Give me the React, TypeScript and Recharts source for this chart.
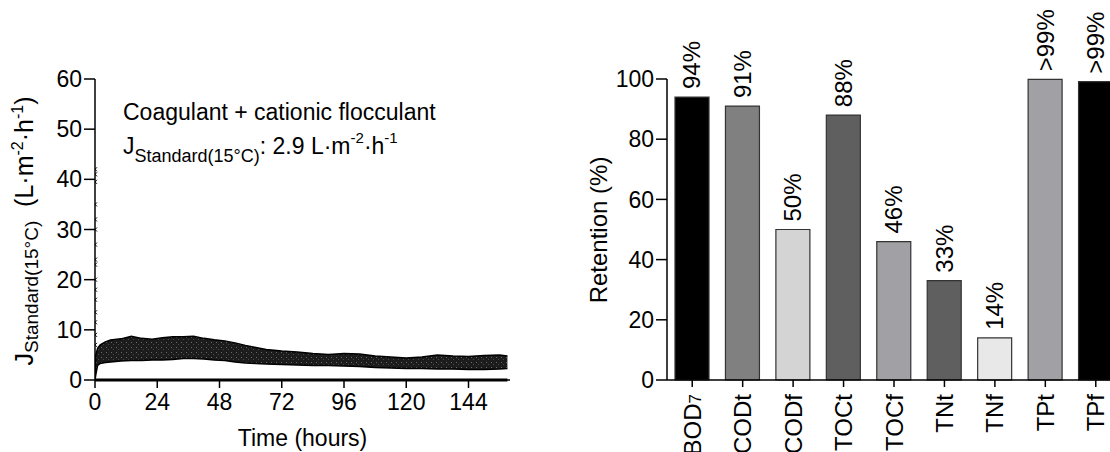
import React from "react";
import {
  ComposedChart,
  Area,
  Line,
  Scatter,
  BarChart,
  Bar,
  Cell,
  LabelList,
  XAxis,
  YAxis,
  Label,
} from "recharts";

// ---- left panel: flux over time ----
const hours = [0, 0.3, 1, 2, 4, 6, 10, 14, 18, 22, 26, 30, 34, 38, 42, 46, 50, 54, 58, 62, 66, 72, 78, 84, 90, 96, 102, 108, 114, 120, 126, 132, 138, 144, 150, 156, 159];
const fluxUpper = [1, 5, 6.3, 7, 7.6, 8, 8.2, 8.7, 8.3, 8.1, 8.4, 8.6, 8.6, 8.7, 8.3, 8, 7.8, 7.4, 6.9, 6.5, 6.1, 5.8, 5.6, 5.3, 5.1, 5.3, 5.2, 4.8, 4.6, 4.4, 4.6, 5, 4.8, 4.7, 4.9, 5, 4.8];
const fluxLower = [0, 1, 2.9, 3.3, 3.5, 3.6, 3.8, 3.9, 3.9, 4, 4, 4.1, 4.3, 4.3, 4.2, 4, 3.9, 3.6, 3.4, 3.3, 3.2, 3.1, 3, 2.9, 2.9, 2.8, 2.7, 2.5, 2.4, 2.3, 2.3, 2.2, 2.2, 2.1, 2.1, 2.2, 2.3];
const spikeValues = [42, 41, 39.5, 35, 32, 30, 27, 24, 23, 20, 18, 16, 13.5, 11.5, 9, 7];
const zeroHours = [0, 159];
const timeTicks = [0, 24, 48, 72, 96, 120, 144];
const fluxTicks = [0, 10, 20, 30, 40, 50, 60];

// ---- right panel: retention ----
const params = ["BOD7", "CODt", "CODf", "TOCt", "TOCf", "TNt", "TNf", "TPt", "TPf"];
const retention = [94, 91, 50, 88, 46, 33, 14, 99.9, 99.1];
const retentionText = ["94%", "91%", "50%", "88%", "46%", "33%", "14%", ">99%", ">99%"];
const barColors = ["#000000", "#808080", "#d4d4d4", "#5f5f5f", "#a1a1a5", "#5f5f5f", "#e8e8e8", "#a1a1a5", "#000000"];
const retentionTicks = [0, 20, 40, 60, 80, 100];

const bandData = hours.map((t, i) => ({ t, range: [fluxLower[i], fluxUpper[i]] }));
const spikeData = spikeValues.map((v) => ({ t: 0, v }));
const zeroData = zeroHours.map((t) => ({ t, v: 0 }));
const barData = params.map((p, i) => ({ name: p, value: retention[i], text: retentionText[i] }));

const FONT = "'Liberation Sans', Arial, sans-serif";
const axisTick = { fill: "#000", fontSize: 23, fontFamily: FONT };

const XMark = (props: any) => {
  const { cx, cy } = props;
  return (
    <path
      d={`M${cx - 2},${cy - 2}L${cx + 2},${cy + 2}M${cx - 2},${cy + 2}L${cx + 2},${cy - 2}`}
      stroke="#000"
      strokeWidth={1}
    />
  );
};

// rotated J_Standard(15°C) (L·m-2·h-1), baseline on the right
const FluxLabel = () => (
  <text
    transform="rotate(-90, 33, 231)"
    x={33}
    y={231}
    textAnchor="middle"
    fontFamily={FONT}
    fontSize={25}
    fill="#000"
  >
    <tspan>J</tspan>
    <tspan dy={5} fontSize={19}>Standard(15°C)</tspan>
    <tspan dy={-5}>{"\u00a0\u00a0(L·m"}</tspan>
    <tspan dy={-10} fontSize={16}>-2</tspan>
    <tspan dy={10}>·h</tspan>
    <tspan dy={-10} fontSize={16}>-1</tspan>
    <tspan dy={10}>)</tspan>
  </text>
);

const TimeLabel = (props: any) => {
  const { viewBox } = props;
  return (
    <text
      x={viewBox.x + viewBox.width / 2}
      y={446}
      textAnchor="middle"
      fontFamily={FONT}
      fontSize={23}
      fill="#000"
    >
      Time (hours)
    </text>
  );
};

const ParamTick = (props: any) => {
  const { x, y, payload } = props;
  const name: string = payload.value;
  const sub = name === "BOD7";
  return (
    <text
      transform={`rotate(-90, ${x}, ${y})`}
      x={x}
      y={y}
      textAnchor="end"
      dominantBaseline="central"
      fontFamily={FONT}
      fontSize={24}
      fill="#000"
    >
      {sub ? (
        <>
          <tspan>BOD</tspan>
          <tspan fontSize={17} dy={3}>7</tspan>
        </>
      ) : (
        name
      )}
    </text>
  );
};

const BarText = (props: any) => {
  const { x, y, width, value } = props;
  const cx = x + width / 2;
  const ty = y - 8;
  return (
    <text
      transform={`rotate(-90, ${cx}, ${ty})`}
      x={cx}
      y={ty}
      textAnchor="start"
      dominantBaseline="central"
      fontFamily={FONT}
      fontSize={24}
      fill="#000"
    >
      {value}
    </text>
  );
};

export default function App() {
  return (
    <div
      style={{
        position: "absolute",
        left: 0,
        top: 0,
        width: 1110,
        height: 452,
        overflow: "hidden",
        background: "#fff",
        fontFamily: FONT,
      }}
    >
      {/* left: flux */}
      <div style={{ position: "absolute", left: 0, top: 0 }}>
        <ComposedChart
          width={540}
          height={452}
          margin={{ top: 79, right: 30, left: 35, bottom: 32 }}
        >
          <defs>
            <pattern id="fluxTexture" width="5" height="5" patternUnits="userSpaceOnUse">
              <rect width="5" height="5" fill="#1c1c1c" />
              <rect x="1" y="2" width="1" height="1" fill="#6a6a6a" />
              <rect x="3" y="4" width="1" height="1" fill="#4a4a4a" />
            </pattern>
          </defs>
          <XAxis
            type="number"
            dataKey="t"
            domain={[0, 160]}
            ticks={timeTicks}
            allowDataOverflow
            tick={axisTick}
            tickSize={8}
            tickMargin={6}
            axisLine={{ stroke: "#000", strokeWidth: 1.5 }}
            tickLine={{ stroke: "#000", strokeWidth: 1.5 }}
            height={40}
          >
            <Label content={<TimeLabel />} />
          </XAxis>
          <YAxis
            type="number"
            domain={[0, 60]}
            ticks={fluxTicks}
            tick={axisTick}
            tickSize={11}
            tickMargin={2}
            width={60}
            axisLine={{ stroke: "#000", strokeWidth: 1.5 }}
            tickLine={{ stroke: "#000", strokeWidth: 1.5 }}
            label={<FluxLabel />}
          />
          <Area
            data={bandData}
            dataKey="range"
            type="linear"
            stroke="#000"
            strokeWidth={1.5}
            fill="url(#fluxTexture)"
            fillOpacity={1}
            isAnimationActive={false}
          />
          <Line
            data={zeroData}
            dataKey="v"
            stroke="#000"
            strokeWidth={3}
            dot={false}
            isAnimationActive={false}
          />
          <Scatter
            data={spikeData}
            dataKey="v"
            shape={<XMark />}
            isAnimationActive={false}
          />
        </ComposedChart>
      </div>

      {/* annotation */}
      <svg
        style={{ position: "absolute", left: 0, top: 0 }}
        width={540}
        height={200}
      >
        <text x={123} y={120} fontFamily={FONT} fontSize={23} fill="#000">
          Coagulant + cationic flocculant
        </text>
        <text x={123} y={154} fontFamily={FONT} fontSize={23} fill="#000">
          <tspan>J</tspan>
          <tspan dy={8} fontSize={18}>Standard(15°C)</tspan>
          <tspan dy={-8}>: 2.9 L·m</tspan>
          <tspan dy={-11} fontSize={15}>-2</tspan>
          <tspan dy={11}>·h</tspan>
          <tspan dy={-11} fontSize={15}>-1</tspan>
        </text>
      </svg>

      {/* right: retention */}
      <div style={{ position: "absolute", left: 560, top: 0 }}>
        <BarChart
          width={600}
          height={452}
          data={barData}
          margin={{ top: 79, right: 39, left: 39, bottom: 32 }}
          barSize={34}
        >
          <XAxis
            dataKey="name"
            interval={0}
            tick={<ParamTick />}
            tickSize={7}
            tickMargin={7}
            height={40}
            axisLine={{ stroke: "#000", strokeWidth: 1.5 }}
            tickLine={{ stroke: "#000", strokeWidth: 1.5 }}
          />
          <YAxis
            domain={[0, 100]}
            ticks={retentionTicks}
            tick={axisTick}
            tickSize={11}
            tickMargin={2}
            width={68}
            axisLine={{ stroke: "#000", strokeWidth: 1.5 }}
            tickLine={{ stroke: "#000", strokeWidth: 1.5 }}
          />
          <Bar dataKey="value" isAnimationActive={false} stroke="#333" strokeWidth={1.2}>
            {barData.map((d, i) => (
              <Cell key={d.name} fill={barColors[i]} />
            ))}
            <LabelList dataKey="text" content={<BarText />} />
          </Bar>
        </BarChart>
      </div>

      <svg style={{ position: "absolute", left: 560, top: 0 }} width={80} height={452}>
        <text
          transform="rotate(-90, 38, 230)"
          x={38}
          y={230}
          textAnchor="middle"
          dominantBaseline="central"
          fontFamily={FONT}
          fontSize={24}
          fill="#000"
        >
          Retention (%)
        </text>
      </svg>
    </div>
  );
}
